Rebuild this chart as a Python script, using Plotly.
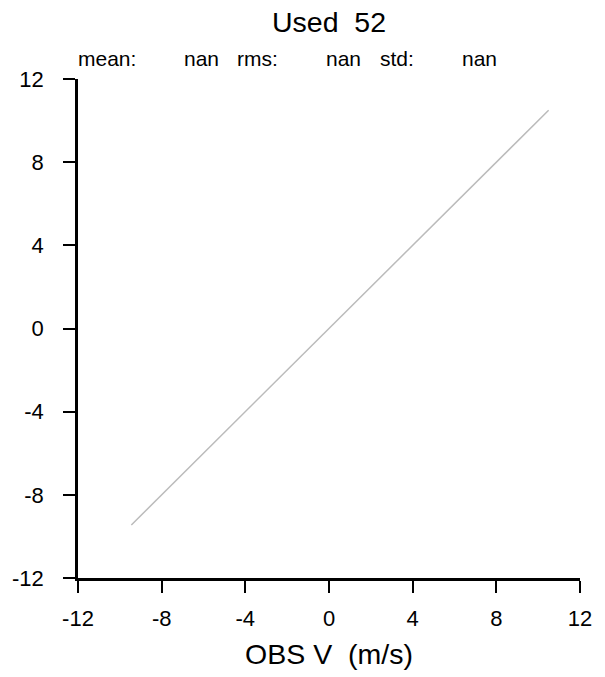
import plotly.graph_objects as go

# Data
line_x = [-9.45, 10.5]
line_y = [-9.45, 10.5]
tick_vals = [-12, -8, -4, 0, 4, 8, 12]
tick_text = ["-12", "-8", "-4", "0", "4", "8", "12"]
title_text = "Used  52"
stat_labels = ["mean:", "rms:", "std:"]
stat_values = ["nan", "nan", "nan"]
x_title = "OBS V  (m/s)"

W, H = 605, 677
L, R, T, B = 77, 25, 79, 97
pw, ph = W - L - R, H - T - B

def px(x):
    return (x - L) / pw

def py(y):
    return (H - B - y) / ph

FONT = "Liberation Sans, Arial, Helvetica, sans-serif"

fig = go.Figure()
fig.add_trace(go.Scatter(x=line_x, y=line_y, mode="lines",
                         line=dict(color="#bbbbbb", width=1.5),
                         hoverinfo="skip", showlegend=False))

axis_common = dict(range=[-12, 12], tickvals=tick_vals, ticktext=tick_text,
                   showgrid=False, zeroline=False, showline=True,
                   linecolor="black", linewidth=2.5, ticks="outside",
                   ticklen=12, tickwidth=1.5, tickcolor="black",
                   tickfont=dict(family=FONT, size=22, color="black"))

fig.update_xaxes(**axis_common, ticklabelstandoff=7,
                 title=dict(text=x_title, font=dict(family=FONT, size=28.5, color="black"),
                            standoff=14))
fig.update_yaxes(**axis_common, ticklabelstandoff=15)

annotations = [dict(text=title_text, x=px(328), y=py(22), xref="paper", yref="paper",
                    xanchor="center", yanchor="middle", showarrow=False,
                    font=dict(family=FONT, size=28.5, color="black"))]
label_x = [75, 234, 378]
value_right = [220, 363, 499]
for lab, lx, val, vx in zip(stat_labels, label_x, stat_values, value_right):
    annotations.append(dict(text=lab, x=px(lx), y=py(58), xref="paper", yref="paper",
                            xanchor="left", yanchor="middle", showarrow=False,
                            font=dict(family=FONT, size=21, color="black")))
    annotations.append(dict(text=val, x=px(vx), y=py(58), xref="paper", yref="paper",
                            xanchor="right", yanchor="middle", showarrow=False,
                            font=dict(family=FONT, size=21, color="black")))

fig.update_layout(width=W, height=H, margin=dict(l=L, r=R, t=T, b=B, pad=0),
                  paper_bgcolor="white", plot_bgcolor="white",
                  annotations=annotations, showlegend=False)

fig.write_html("out.html", config={"displayModeBar": False},
               post_script="document.body.style.margin='0';")
